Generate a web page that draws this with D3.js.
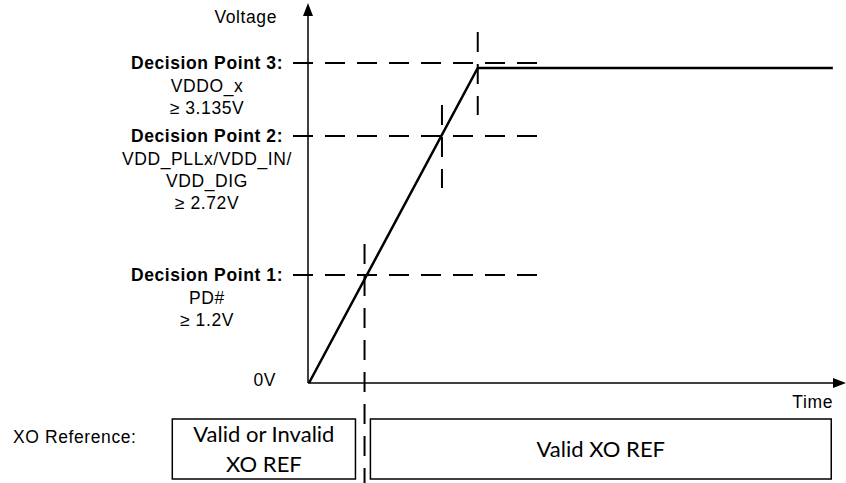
<!DOCTYPE html>
<html>
<head>
<meta charset="utf-8">
<script src="https://cdn.jsdelivr.net/npm/d3@7"></script>
<style>
  body { margin: 0; background: #fff; }
  text { font-family: Arial, "Liberation Sans", sans-serif; fill: #000; font-size: 17.5px; letter-spacing: 0.6px; }
  .box-text { font-family: Lato, "Open Sans", sans-serif; font-size: 22px; letter-spacing: 0; }
</style>
</head>
<body>
<div id="chart"></div>
<script>
// decision points: threshold voltage, and the time the ramp crosses it
var decisionNames = ["Decision Point 1:", "Decision Point 2:", "Decision Point 3:"];
var decisionLines = [["PD#", "\u2265 1.2V"],
                     ["VDD_PLLx/VDD_IN/", "VDD_DIG", "\u2265 2.72V"],
                     ["VDDO_x", "\u2265 3.135V"]];
var decisionVolts = [1.2, 2.72, 3.135];
var decisionTimes = [10.4, 24.9, 31.6];

// supply ramp (time, volts)
var rampTimes = [0, 31.6, 98.1];
var rampVolts = [0, 3.107, 3.107];

// XO reference phases along the time axis
var phaseLabels = [["Valid or Invalid", "XO REF"], ["Valid XO REF"]];
var phaseStart = [-25.6, 11.5];
var phaseEnd = [8.7, 97.8];

var width = 846, height = 483;

var svg = d3.select("#chart").append("svg")
    .attr("width", width)
    .attr("height", height);

// the drawing is not to scale, so the voltage axis is piecewise
var x = d3.scaleLinear().domain([0, 100]).range([309, 843]);
var y = d3.scaleLinear().domain([0, 1.2, 2.72, 3.135]).range([383, 275, 136, 63]);

var axisX = x(0) - 1, axisY = y(0);

// axes
svg.append("line")
    .attr("x1", axisX).attr("y1", axisY)
    .attr("x2", axisX).attr("y2", 14)
    .attr("stroke", "#000").attr("stroke-width", 1.5);
svg.append("path")
    .attr("d", "M" + axisX + ",3L" + (axisX - 5) + ",16L" + (axisX + 5) + ",16Z")
    .attr("fill", "#000");

svg.append("line")
    .attr("x1", axisX).attr("y1", axisY)
    .attr("x2", 834).attr("y2", axisY)
    .attr("stroke", "#000").attr("stroke-width", 1.5);
svg.append("path")
    .attr("d", "M846," + axisY + "L833," + (axisY - 5) + "L833," + (axisY + 5) + "Z")
    .attr("fill", "#000");

svg.append("text")
    .attr("x", 277).attr("y", 23)
    .attr("text-anchor", "end")
    .text("Voltage");
svg.append("text")
    .attr("x", 276).attr("y", axisY + 3)
    .attr("text-anchor", "end")
    .text("0V");
svg.append("text")
    .attr("x", 833).attr("y", 408)
    .attr("text-anchor", "end")
    .text("Time");

// dashed threshold lines
var dash = "20,12";
decisionVolts.forEach(function (v, i) {
    svg.append("line")
        .attr("x1", axisX - 15).attr("y1", y(v))
        .attr("x2", 540).attr("y2", y(v))
        .attr("stroke", "#000").attr("stroke-width", 2)
        .attr("stroke-dasharray", dash);

    var cx = x(decisionTimes[i]);
    svg.append("line")
        .attr("x1", cx).attr("y1", y(v) - 31)
        .attr("x2", cx).attr("y2", i == 0 ? height : y(v) + 52)
        .attr("stroke", "#000").attr("stroke-width", 2)
        .attr("stroke-dasharray", dash);

    // labels left of the axis
    var ty = y(v) + 6;
    svg.append("text")
        .attr("x", 207).attr("y", ty)
        .attr("text-anchor", "middle")
        .style("font-weight", "bold")
        .text(decisionNames[i]);
    decisionLines[i].forEach(function (s, j) {
        svg.append("text")
            .attr("x", 207).attr("y", ty + 23 + j * 22)
            .attr("text-anchor", "middle")
            .text(s);
    });
});

// ramp
var line = d3.line()
    .x(function (d) { return x(d[0]); })
    .y(function (d) { return y(d[1]); });

svg.append("path")
    .datum(d3.zip(rampTimes, rampVolts))
    .attr("d", line)
    .attr("fill", "none")
    .attr("stroke", "#000")
    .attr("stroke-width", 2.5);

// XO reference row
svg.append("text")
    .attr("x", 13).attr("y", 443)
    .text("XO Reference:");

phaseLabels.forEach(function (lines, i) {
    var x0 = x(phaseStart[i]), x1 = x(phaseEnd[i]);
    svg.append("rect")
        .attr("x", x0).attr("y", 419)
        .attr("width", x1 - x0).attr("height", 60)
        .attr("fill", "none")
        .attr("stroke", "#000").attr("stroke-width", 1.5);
    var top = 449 - (lines.length - 1) * 15;
    lines.forEach(function (s, j) {
        svg.append("text")
            .attr("class", "box-text")
            .attr("x", (x0 + x1) / 2).attr("y", top + j * 30 + 8)
            .attr("text-anchor", "middle")
            .text(s);
    });
});
</script>
</body>
</html>
